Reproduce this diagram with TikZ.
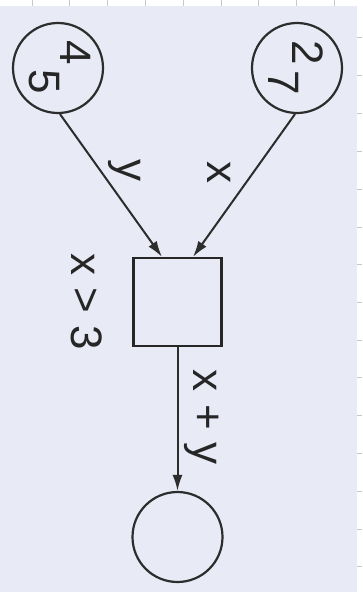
\documentclass[tikz,border=0pt]{standalone}
\usepackage{fontspec}
\setmainfont{Liberation Sans}
\usetikzlibrary{arrows.meta}
\definecolor{bgc}{RGB}{232,234,245}
\definecolor{gridc}{RGB}{200,200,204}
\definecolor{inkc}{RGB}{45,45,45}
\tikzset{
  place/.style={circle,draw=inkc,line width=2.2pt,minimum size=90pt,inner sep=0pt},
  trans/.style={rectangle,draw=black!85,line width=2.2pt,minimum size=88pt,inner sep=0pt},
  lbl/.style={rotate=-90,inner sep=0pt,font=\fontsize{44}{48}\selectfont,text=black!85},
  arc/.style={draw=inkc,line width=2pt,-{Latex[length=16pt,width=10pt]}},
}
\begin{document}
\begin{tikzpicture}[x=1pt,y=-1pt]
\useasboundingbox (0,0) rectangle (362,592);
\fill[bgc] (0,0) rectangle (362,592);
\fill[white] (0,0) rectangle (362,6);
\fill[white] (357,0) rectangle (362,592);
\foreach \gx in {32,69,107,145,183,221,258,296,334}
  \draw[gridc,line width=1pt] (\gx,0) -- (\gx,6);
\foreach \gy in {37,75,113,151,189,227,264,302,340,377,415,453,491,529,566}
  \draw[gridc,line width=1pt] (357,\gy) -- (362,\gy);
\node[place] (p1) at (58,68) {};
\node[place] (p2) at (297,68) {};
\node[trans] (t) at (177.5,302) {};
\node[place] (p3) at (177.5,537) {};
\node[lbl] (n4) at (76,53) {4};
\node[lbl] (n5) at (44,82) {5};
\node[lbl] (n2) at (308,53) {2};
\node[lbl] (n7) at (284,83) {7};
\coordinate (tl) at ([xshift=-15.5pt]t.north);
\coordinate (tr) at ([xshift=15.5pt]t.north);
\draw[arc] ([xshift=2pt]p1.south) -- (tl);
\draw[arc] ([xshift=-2pt]p2.south) -- (tr);
\draw[arc] (t.south) -- (p3.north);
\node[lbl] (ly) at (125,170) {y};
\node[lbl] (lx) at (219,172) {x};
\node[lbl] (lg) at (87,302) {x > 3};
\node[lbl] (lxy) at (202,417) {x + y};
\end{tikzpicture}
\end{document}
